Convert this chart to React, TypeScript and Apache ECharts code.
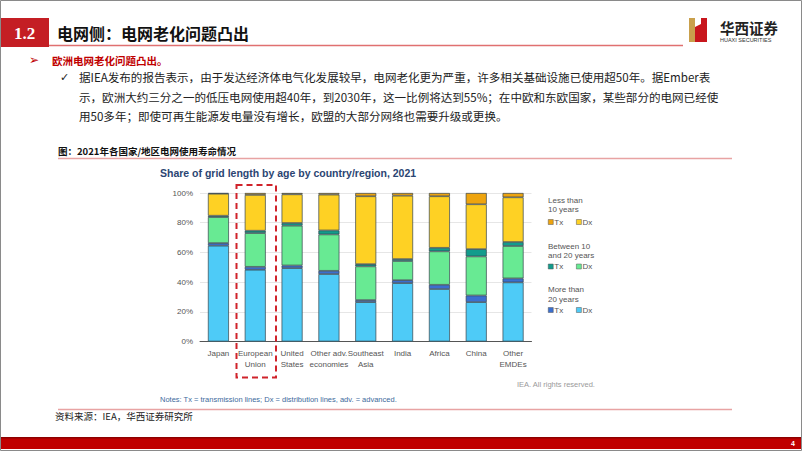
import React, { useEffect, useRef } from "react";
import * as echarts from "echarts";

const categories = ["Japan", "European\nUnion", "United\nStates", "Other adv.\neconomies", "Southeast\nAsia", "India", "Africa", "China", "Other\nEMDEs"];
const dxOver20 = [64.5, 48.3, 49.4, 45.4, 26.5, 39.3, 35.3, 26.5, 39.8];
const txOver20 = [1.8, 2.0, 1.8, 2.2, 1.4, 2.0, 2.9, 4.5, 2.7];
const dx10to20 = [17.5, 22.7, 26.8, 24.5, 22.7, 12.9, 22.5, 26.3, 21.8];
const tx10to20 = [0.9, 1.6, 1.8, 2.7, 1.5, 1.3, 2.4, 4.9, 2.7];
const dxUnder10 = [14.8, 24.1, 19.3, 24.1, 45.7, 42.7, 34.7, 30.2, 30.1];
const txUnder10 = [0.5, 1.3, 0.9, 1.1, 2.2, 1.8, 2.2, 7.6, 2.9];
const yTicks = [0, 20, 40, 60, 80, 100];

const CJK = "'Noto Sans CJK SC', sans-serif";
const SANS = "'Liberation Sans', Arial, sans-serif";

const para = [
  "据IEA发布的报告表示，由于发达经济体电气化发展较早，电网老化更为严重，许多相关基础设施已使用超50年。据Ember表",
  "示，欧洲大约三分之一的低压电网使用超40年，到2030年，这一比例将达到55%；在中欧和东欧国家，某些部分的电网已经使",
  "用50多年；即使可再生能源发电量没有增长，欧盟的大部分网络也需要升级或更换。",
];

export default function App() {
  const ref = useRef<HTMLDivElement>(null);
  useEffect(() => {
    if (!ref.current) return;
    const chart = echarts.init(ref.current, null, { renderer: "svg" });
    const mk = (name: string, data: number[], color: string) => ({
      name,
      type: "bar",
      stack: "total",
      data,
      barWidth: 21,
      itemStyle: { color, borderColor: "#35444c", borderWidth: 0.7 },
    });
    const legendBase = (names: string[], top: number) => ({
      data: names.map((n) => ({ name: n })),
      left: 548,
      top,
      padding: 0,
      orient: "horizontal",
      icon: "rect",
      itemWidth: 5,
      itemHeight: 5,
      itemGap: 13,
      selectedMode: false,
      itemStyle: { borderWidth: 0.5, borderColor: "#555" },
      formatter: (n: string) => n.split(" ")[0],
      textStyle: { fontSize: 8, color: "#555", fontFamily: SANS, padding: [0, 0, 0, -4] },
    });
    const txt = (x: number, y: number, text: string, style: any) => ({
      type: "text",
      x,
      y,
      style: { text, textVerticalAlign: "middle", ...style },
    });
    const option: any = {
      animation: false,
      backgroundColor: "#fff",
      grid: { left: 200, top: 193, width: 331.5, height: 148.5 },
      xAxis: {
        type: "category",
        data: categories,
        axisLine: { lineStyle: { color: "#555", width: 1 } },
        axisTick: { show: false },
        axisLabel: { fontSize: 8, color: "#555", fontFamily: SANS, lineHeight: 10.5, margin: 7, interval: 0 },
      },
      yAxis: {
        type: "value",
        min: 0,
        max: 100,
        interval: 20,
        axisLabel: { fontSize: 8, color: "#555", fontFamily: SANS, margin: 7, formatter: (v: number) => (yTicks.includes(v) ? v + "%" : "") },
        splitLine: { lineStyle: { color: "#e6e6e6", width: 1 } },
        axisLine: { show: false },
        axisTick: { show: false },
      },
      legend: [
        legendBase(["Tx <10", "Dx <10"], 218),
        legendBase(["Tx 10-20", "Dx 10-20"], 262.5),
        legendBase(["Tx >20", "Dx >20"], 306),
      ],
      series: [
        mk("Dx >20", dxOver20, "#4ecbf7"),
        mk("Tx >20", txOver20, "#3b6fcf"),
        mk("Dx 10-20", dx10to20, "#68ea93"),
        mk("Tx 10-20", tx10to20, "#129c8c"),
        mk("Dx <10", dxUnder10, "#fed124"),
        mk("Tx <10", txUnder10, "#eea40e"),
      ],
      graphic: [
        { type: "rect", shape: { x: 0.5, y: 0.5, width: 801, height: 450 }, style: { fill: "none", stroke: "#8a8a8a", lineWidth: 1 }, z: 100 },
        // header
        { type: "rect", shape: { x: 0, y: 18, width: 49, height: 29 }, style: { fill: "#c41e24" } },
        txt(24.5, 33, "1.2", { fill: "#fff", font: "bold 17px 'Liberation Serif', serif", textAlign: "center" }),
        txt(57, 33, "电网侧：电网老化问题凸出", { fill: "#111", font: `bold 16px ${CJK}` }),
        { type: "line", shape: { x1: 49, y1: 45.5, x2: 683, y2: 45.5 }, style: { stroke: "#e07070", lineWidth: 1.5 } },
        // logo
        { type: "polygon", shape: { points: [[689, 18], [695, 18], [695, 42], [689, 42]] }, style: { fill: "#c9a04c" } },
        { type: "polygon", shape: { points: [[695, 27], [701, 24], [701, 42], [695, 42]] }, style: { fill: "#c8161d" } },
        { type: "polygon", shape: { points: [[701, 18], [707, 18], [707, 42], [701, 42]] }, style: { fill: "#c8161d" } },
        txt(720, 27, "华西证券", { fill: "#222", font: `bold 14.5px ${CJK}` }),
        txt(720, 39.5, "HUAXI SECURITIES", { fill: "#333", font: `5.5px ${SANS}` }),
        // bullets
        txt(29, 60, "➢", { fill: "#c00000", font: `12px 'DejaVu Sans', sans-serif` }),
        txt(52, 60, "欧洲电网老化问题凸出。", { fill: "#c00000", font: `bold 10.5px ${CJK}` }),
        txt(60, 77, "✓", { fill: "#222", font: `11px 'DejaVu Sans', sans-serif` }),
        txt(79, 77, para[0], { fill: "#222", font: `11.55px ${CJK}` }),
        txt(79, 97, para[1], { fill: "#222", font: `11.55px ${CJK}` }),
        txt(79, 116, para[2], { fill: "#222", font: `11.55px ${CJK}` }),
        // chart frame
        txt(58, 151, "图：2021年各国家/地区电网使用寿命情况", { fill: "#111", font: `bold 9.5px ${CJK}` }),
        { type: "line", shape: { x1: 58, y1: 158.5, x2: 732, y2: 158.5 }, style: { stroke: "#e8a3a3", lineWidth: 1.5 } },
        txt(160, 173, "Share of grid length by age by country/region, 2021", { fill: "#2b4572", font: `bold 10.5px ${SANS}` }),
        txt(548, 200, "Less than", { fill: "#555", font: `8px ${SANS}` }),
        txt(548, 209.5, "10 years", { fill: "#555", font: `8px ${SANS}` }),
        txt(548, 246, "Between 10", { fill: "#555", font: `8px ${SANS}` }),
        txt(548, 255.5, "and 20 years", { fill: "#555", font: `8px ${SANS}` }),
        txt(548, 289.5, "More than", { fill: "#555", font: `8px ${SANS}` }),
        txt(548, 299, "20 years", { fill: "#555", font: `8px ${SANS}` }),
        { type: "rect", shape: { x: 236.5, y: 185, width: 39.5, height: 192.5 }, style: { fill: "none", stroke: "#d0232b", lineWidth: 2, lineDash: [6, 4] }, z: 50 },
        txt(517, 384, "IEA. All rights reserved.", { fill: "#9a9a9a", font: `7.5px ${SANS}` }),
        txt(160, 399, "Notes: Tx = transmission lines; Dx = distribution lines, adv. = advanced.", { fill: "#3d6a9c", font: `7.5px ${SANS}` }),
        { type: "line", shape: { x1: 58, y1: 409.5, x2: 732, y2: 409.5 }, style: { stroke: "#e8a3a3", lineWidth: 1.5 } },
        txt(55, 416, "资料来源：IEA，华西证券研究所", { fill: "#222", font: `9.5px ${CJK}` }),
        // footer
        { type: "rect", shape: { x: 1, y: 437, width: 800, height: 12 }, style: { fill: "#c00000" } },
        { type: "rect", shape: { x: 1, y: 437, width: 800, height: 1.5 }, style: { fill: "#8e0000" } },
        txt(793, 443.5, "4", { fill: "#fff", font: `bold 7px ${SANS}`, textAlign: "center" }),
      ],
    };
    chart.setOption(option);
    return () => chart.dispose();
  }, []);
  return <div ref={ref} style={{ position: "fixed", left: 0, top: 0, width: 802, height: 451 }} />;
}
